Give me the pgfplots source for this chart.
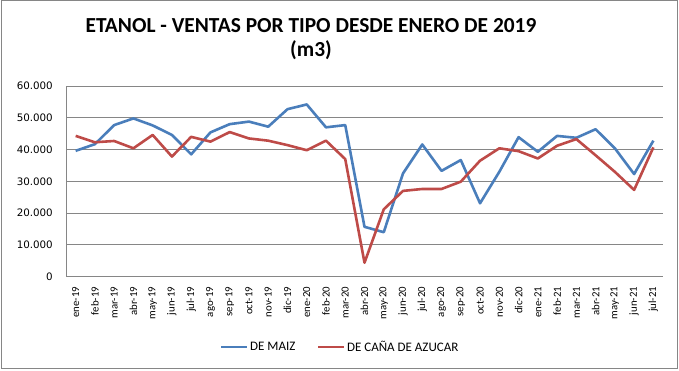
\documentclass[border=0pt]{standalone}
\usepackage{pgfplots}
\pgfplotsset{compat=1.18}
\usepackage{fontspec}
\setmainfont{Carlito}
\newfontfamily\dejavu{DejaVu Sans}
\definecolor{xlblue}{RGB}{74,126,187}
\definecolor{xlred}{RGB}{190,75,72}
\definecolor{gridgray}{RGB}{134,134,134}
\begin{document}
\begin{tikzpicture}
\useasboundingbox (0pt,0pt) rectangle (679pt,370pt);
\draw[gridgray, line width=1pt] (1.5pt,2pt) rectangle (677pt,369pt);
\node[anchor=base, font=\fontsize{21.4}{24}\selectfont\bfseries, inner sep=0pt] at (311pt,337pt) {ETANOL - VENTAS POR TIPO DESDE ENERO DE 2019};
\node[anchor=base, font=\fontsize{21.4}{24}\selectfont\bfseries, inner sep=0pt] at (311pt,313pt) {(m3)};
\begin{axis}[
  at={(66pt,93.3pt)}, anchor=south west,
  scale only axis, width=597pt, height=190.7pt,
  xmin=-0.5, xmax=30.5, ymin=0, ymax=60000,
  axis x line*=bottom, axis y line*=left,
  axis line style={draw=gridgray, line width=1pt, -},
  major tick length=0pt,
  ytick={0,10000,20000,30000,40000,50000,60000},
  yticklabels={0,10.000,20.000,30.000,40.000,50.000,60.000},
  scaled y ticks=false,
  yticklabel style={font=\dejavu\fontsize{10.3}{12}\selectfont, anchor=east, inner sep=0pt, xshift=-13pt},
  xtick={0,...,30},
  xticklabels={ene-19,feb-19,mar-19,abr-19,may-19,jun-19,jul-19,ago-19,sep-19,oct-19,nov-19,dic-19,ene-20,feb-20,mar-20,abr-20,may-20,jun-20,jul-20,ago-20,sep-20,oct-20,nov-20,dic-20,ene-21,feb-21,mar-21,abr-21,may-21,jun-21,jul-21},
  xticklabel style={font=\fontsize{10.8}{12}\selectfont, yshift=-10pt, rotate=90, anchor=east, inner sep=0pt},
  ymajorgrids, grid style={draw=gridgray, line width=1pt},
  legend style={at={(0.459,-0.3686)}, anchor=center, draw=none, fill=none,
    font=\fontsize{13}{15}\selectfont, legend columns=2, inner sep=0pt,
    /tikz/every even column/.append style={column sep=20pt},
    nodes={inner sep=1.5pt}},
  legend image code/.code={\draw[#1] (0pt,0pt) -- (26pt,0pt);},
]
\addplot[xlblue, line width=2.6pt, line join=round] coordinates {
(0,39600) (1,41700) (2,47700) (3,49800) (4,47600) (5,44600) (6,38500) (7,45400)
(8,48000) (9,48800) (10,47200) (11,52700) (12,54200) (13,47000) (14,47700)
(15,15700) (16,14000) (17,32500) (18,41600) (19,33300) (20,36700) (21,23100)
(22,33000) (23,43900) (24,39300) (25,44300) (26,43700) (27,46400) (28,40400)
(29,32300) (30,42800)};
\addlegendentry{DE MAIZ}
\addplot[xlred, line width=2.6pt, line join=round] coordinates {
(0,44300) (1,42300) (2,42700) (3,40400) (4,44600) (5,37800) (6,44000) (7,42500)
(8,45500) (9,43500) (10,42800) (11,41400) (12,39800) (13,42800) (14,37000)
(15,4400) (16,21200) (17,27000) (18,27600) (19,27600) (20,29900) (21,36500)
(22,40400) (23,39500) (24,37200) (25,41200) (26,43300) (27,38200) (28,33000)
(29,27300) (30,40700)};
\addlegendentry{DE CAÑA DE AZUCAR}
\end{axis}
\end{tikzpicture}
\end{document}
